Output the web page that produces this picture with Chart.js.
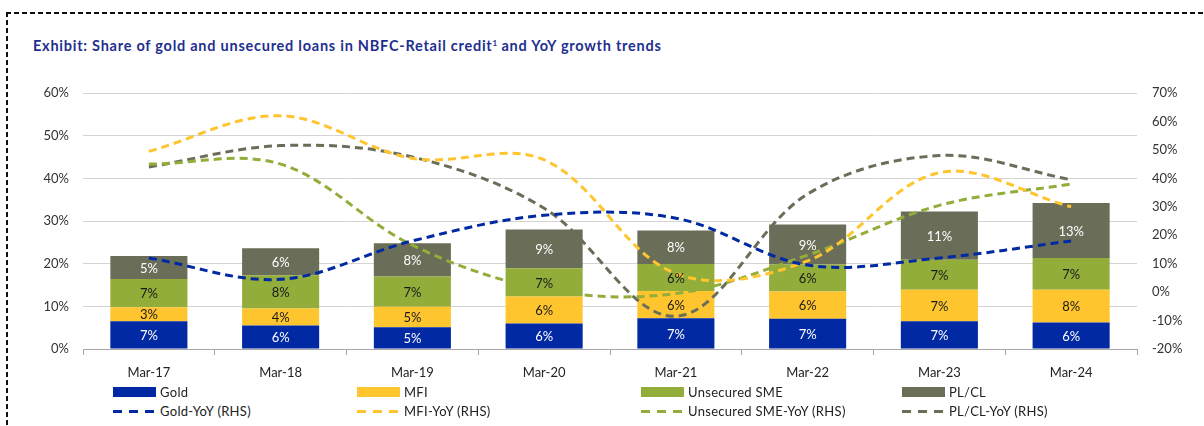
<!DOCTYPE html>
<html>
<head>
<meta charset="utf-8">
<script src="https://cdn.jsdelivr.net/npm/chart.js@4.4.1/dist/chart.umd.min.js"></script>
<style>
  html, body { margin: 0; padding: 0; background: #fff; }
  #wrap { position: relative; width: 1204px; height: 426px; overflow: hidden; font-family: Lato, "Open Sans", sans-serif; }
  #btop { position: absolute; left: 6px; top: 12px; width: 1198px; height: 2px;
    background: repeating-linear-gradient(to right, #111 0 5px, transparent 5px 8px); }
  #bleft { position: absolute; left: 6px; top: 12px; width: 2px; height: 414px;
    background: repeating-linear-gradient(to bottom, #111 0 5px, transparent 5px 8px); }
  #title { position: absolute; left: 33px; top: 37px; font-size: 14.5px; font-weight: 700; color: #1f2f8f; white-space: nowrap; letter-spacing: 0.75px; }
  #title sup { font-size: 8px; vertical-align: 5px; letter-spacing: 0; }
  #chartbox { position: absolute; left: 0; top: 0; width: 1204px; height: 385px; }
  .lg { position: absolute; display: flex; align-items: center; font-size: 13px; color: #222; white-space: nowrap; height: 16px; letter-spacing: 0.3px; }
  .sw { width: 43px; height: 10px; margin-right: 4px; }
  .dsw { width: 43px; height: 3px; margin-right: 4px; }
</style>
</head>
<body>
<div id="wrap">
  <div id="btop"></div>
  <div id="bleft"></div>
  <div id="title">Exhibit: Share of gold and unsecured loans in NBFC-Retail credit<sup>1</sup> and YoY growth trends</div>
  <div id="chartbox"><canvas id="c" width="1204" height="385"></canvas></div>
  <div id="legend"></div>
</div>
<script>
// ---- data ----
const categories = ['Mar-17', 'Mar-18', 'Mar-19', 'Mar-20', 'Mar-21', 'Mar-22', 'Mar-23', 'Mar-24'];
// share in NBFC-Retail credit (%, LHS)
const goldShare = [6.5, 5.5, 5.1, 6.0, 7.2, 7.1, 6.5, 6.2];
const mfiShare  = [3.3, 4.0, 4.8, 6.3, 6.4, 6.4, 7.4, 7.7];
const smeShare  = [6.6, 7.8, 7.1, 6.6, 6.3, 6.3, 7.0, 7.4];
const plShare   = [5.4, 6.3, 7.8, 9.1, 7.9, 9.4, 11.3, 12.9];
// YoY growth (%, RHS)
const goldYoY = [12, 4.5, 18, 27, 26, 9.5, 12, 18];
const mfiYoY  = [49.5, 62, 47, 46.5, 6.5, 11, 42, 30];
const smeYoY  = [45, 45, 16.5, 1, -0.5, 13, 30.5, 38];
const plYoY   = [44, 51.5, 47.5, 29.5, -8.5, 34.5, 48, 39.5];
// tick labels
const leftTicks = [0, 10, 20, 30, 40, 50, 60];
const rightTicks = [-20, -10, 0, 10, 20, 30, 40, 50, 60, 70];

const C_GOLD = '#0029a3', C_MFI = '#ffc52f', C_SME = '#93ad3a', C_PL = '#6a6e59';

Chart.defaults.font.family = 'Lato, "Open Sans", sans-serif';
Chart.defaults.font.size = 13;
Chart.defaults.color = '#333';

const barLabelPlugin = {
  id: 'barLabels',
  afterDatasetsDraw(chart) {
    const ctx = chart.ctx;
    ctx.save();
    ctx.font = '13px Lato, "Open Sans", sans-serif';
    ctx.textAlign = 'center';
    ctx.textBaseline = 'middle';
    chart.data.datasets.forEach((ds, di) => {
      if (ds.type !== 'bar') return;
      const meta = chart.getDatasetMeta(di);
      meta.data.forEach((el, i) => {
        const p = el.getProps(['x', 'y', 'base'], true);
        ctx.fillStyle = ds.labelColor;
        ctx.fillText(Math.round(ds.data[i]) + '%', p.x, (p.y + p.base) / 2 + 1);
      });
    });
    ctx.restore();
  }
};

const barDs = (label, data, color, labelColor) => ({
  type: 'bar', label, data, backgroundColor: color, labelColor,
  yAxisID: 'y', stack: 's', order: 2, barPercentage: 0.585, categoryPercentage: 1, borderWidth: 0
});
const lineDs = (label, data, color) => ({
  type: 'line', label, data, borderColor: color, backgroundColor: color, yAxisID: 'y1', order: 1,
  borderDash: [8, 5], borderWidth: 3, pointRadius: 0, tension: 0.35, fill: false
});

new Chart(document.getElementById('c'), {
  data: {
    labels: categories,
    datasets: [
      barDs('Gold', goldShare, C_GOLD, '#ffffff'),
      barDs('MFI', mfiShare, C_MFI, '#1a1a1a'),
      barDs('Unsecured SME', smeShare, C_SME, '#1a1a1a'),
      barDs('PL/CL', plShare, C_PL, '#ffffff'),
      lineDs('Gold-YoY (RHS)', goldYoY, C_GOLD),
      lineDs('MFI-YoY (RHS)', mfiYoY, C_MFI),
      lineDs('Unsecured SME-YoY (RHS)', smeYoY, C_SME),
      lineDs('PL/CL-YoY (RHS)', plYoY, C_PL)
    ]
  },
  options: {
    responsive: false,
    animation: false,
    layout: { padding: { top: 93, left: 0, right: 0, bottom: 0 } },
    plugins: { legend: { display: false }, tooltip: { enabled: false } },
    scales: {
      x: {
        stacked: true,
        afterFit: s => { s.height = 36; },
        grid: { offset: true, drawOnChartArea: false, drawTicks: true, tickLength: 6, color: '#a6a6a6' },
        border: { display: true, color: '#a6a6a6', width: 1 },
        ticks: { padding: 10, color: '#222', font: { size: 13 } }
      },
      y: {
        position: 'left', stacked: true, min: 0, max: 60,
        afterFit: s => { s.width = 83; },
        afterBuildTicks: s => { s.ticks = leftTicks.map(v => ({ value: v })); },
        grid: { color: '#d4d4d4', drawTicks: false },
        border: { display: false },
        ticks: { padding: 14, color: '#333', callback: v => v + '%' }
      },
      y1: {
        position: 'right', stacked: false, min: -20, max: 70,
        afterFit: s => { s.width = 67; },
        afterBuildTicks: s => { s.ticks = rightTicks.map(v => ({ value: v })); },
        grid: { drawOnChartArea: false, drawTicks: false },
        border: { display: false },
        ticks: { padding: 15, color: '#333', callback: v => v + '%' }
      }
    }
  },
  plugins: [barLabelPlugin]
});

// ---- HTML legend (4 columns x 2 rows) ----
const legendItems = [
  { text: 'Gold', color: C_GOLD, dash: false, x: 113, y: 392 },
  { text: 'MFI', color: C_MFI, dash: false, x: 357, y: 392 },
  { text: 'Unsecured SME', color: C_SME, dash: false, x: 641, y: 392 },
  { text: 'PL/CL', color: C_PL, dash: false, x: 902, y: 392 },
  { text: 'Gold-YoY (RHS)', color: C_GOLD, dash: true, x: 113, y: 411 },
  { text: 'MFI-YoY (RHS)', color: C_MFI, dash: true, x: 357, y: 411 },
  { text: 'Unsecured SME-YoY (RHS)', color: C_SME, dash: true, x: 641, y: 411 },
  { text: 'PL/CL-YoY (RHS)', color: C_PL, dash: true, x: 902, y: 411 }
];
const lg = document.getElementById('legend');
legendItems.forEach(it => {
  const d = document.createElement('div');
  d.className = 'lg';
  d.style.left = it.x + 'px';
  d.style.top = (it.y - 8) + 'px';
  const s = document.createElement('span');
  if (it.dash) {
    s.className = 'dsw';
    s.style.background = `repeating-linear-gradient(to right, ${it.color} 0 9px, transparent 9px 16px)`;
  } else {
    s.className = 'sw';
    s.style.background = it.color;
  }
  d.appendChild(s);
  const t = document.createElement('span');
  t.textContent = it.text;
  d.appendChild(t);
  lg.appendChild(d);
});
</script>
</body>
</html>
